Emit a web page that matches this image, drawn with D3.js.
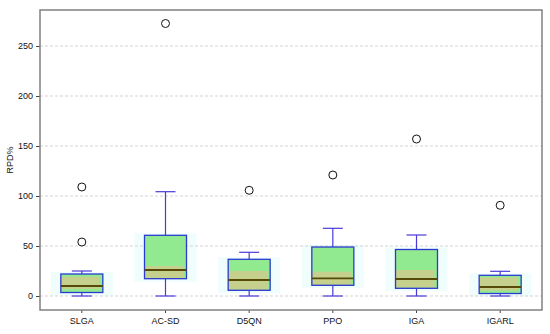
<!DOCTYPE html>
<html>
<head>
<meta charset="utf-8">
<script src="https://cdn.jsdelivr.net/npm/d3@7"></script>
<style>
  body { margin: 0; background: #fff; }
  text { font-family: "Liberation Sans", Arial, sans-serif; fill: #111; }
</style>
</head>
<body>
<script>
// box plot data
var methods   = ["SLGA", "AC-SD", "D5QN", "PPO", "IGA", "IGARL"];
var whiskLow  = [0, 0, 0, 0, 0, 0];
var q1        = [3.5, 17.3, 5.7, 10.7, 7.7, 2.5];
var medians   = [10, 26, 16, 17.7, 17, 9];
var q3        = [22, 60.7, 36.7, 49, 46.5, 20.7];
var whiskHigh = [25, 104.3, 43.7, 67.7, 61, 24.7];
// the tan band drawn over each box
var bandLow   = [7, 17.3, 6, 11, 8.3, 5.3];
var bandHigh  = [19.3, 30, 25, 24.3, 26, 18.7];
var outliers  = [[109, 54], [272.5], [105.7], [121], [157], [90.7]];
var yTicks    = [0, 50, 100, 150, 200, 250];

var W = 550, H = 334;
var plotL = 40, plotR = 542, plotT = 10, plotB = 310;

var svg = d3.select("body").append("svg")
    .attr("width", W).attr("height", H);

var x = d3.scaleBand().domain(methods).range([plotL, plotR]);
var y = d3.scaleLinear().domain([-14, 286]).range([plotB, plotT]);

var bw = 42, capW = 20, haloW = 62;
var g = svg.append("g").selectAll("g").data(methods).enter().append("g")
    .attr("transform", function (d) { return "translate(" + (x(d) + x.bandwidth() / 2) + ",0)"; });

// faint halo behind box
g.append("rect")
    .attr("x", -haloW / 2).attr("width", haloW)
    .attr("y", function (d, i) { return y(q3[i]) - 2; })
    .attr("height", function (d, i) { return y(q1[i]) - y(q3[i]) + 5; })
    .style("fill", "#f0fdfd");

// grid lines
svg.append("g").selectAll("line").data(yTicks).enter().append("line")
    .attr("x1", plotL).attr("x2", plotR)
    .attr("y1", function (d) { return y(d); })
    .attr("y2", function (d) { return y(d); })
    .style("stroke", "#c8c8c8")
    .style("stroke-dasharray", "3,2")
    .style("stroke-width", 0.8);

// axes
var yAxis = svg.append("g")
    .attr("transform", "translate(" + plotL + ",0)")
    .call(d3.axisLeft(y).tickValues(yTicks).tickSize(4).tickPadding(3));
var xAxis = svg.append("g")
    .attr("transform", "translate(0," + plotB + ")")
    .call(d3.axisBottom(x).tickSize(3).tickPadding(5));
[yAxis, xAxis].forEach(function (a) {
  a.select(".domain").remove();
  a.selectAll("line").style("stroke", "#444");
  a.selectAll("text").style("font-size", "9px").style("fill", "#111")
    .style("font-family", "'Liberation Sans', Arial, sans-serif");
});

svg.append("text")
    .attr("transform", "translate(13," + ((plotT + plotB) / 2) + ") rotate(-90)")
    .attr("text-anchor", "middle")
    .style("font-size", "9px")
    .text("RPD%");

var boxes = svg.append("g").selectAll("g").data(methods).enter().append("g")
    .attr("transform", function (d) { return "translate(" + (x(d) + x.bandwidth() / 2) + ",0)"; });

// whiskers
function whisker(y1, y2) {
  boxes.append("line")
      .attr("x1", 0).attr("x2", 0)
      .attr("y1", function (d, i) { return y(y1[i]); })
      .attr("y2", function (d, i) { return y(y2[i]); })
      .style("stroke", "#4a3ad8").style("stroke-width", 1.2);
  boxes.append("line")
      .attr("x1", -capW / 2).attr("x2", capW / 2)
      .attr("y1", function (d, i) { return y(y1[i]); })
      .attr("y2", function (d, i) { return y(y1[i]); })
      .style("stroke", "#4a3ad8").style("stroke-width", 1.2);
}
whisker(whiskHigh, q3);
whisker(whiskLow, q1);

// box
boxes.append("rect")
    .attr("x", -bw / 2).attr("width", bw)
    .attr("y", function (d, i) { return y(q3[i]); })
    .attr("height", function (d, i) { return y(q1[i]) - y(q3[i]); })
    .style("fill", "#92ea90");

// tan band
boxes.append("rect")
    .attr("x", -bw / 2).attr("width", bw - 3)
    .attr("y", function (d, i) { return y(bandHigh[i]); })
    .attr("height", function (d, i) { return y(bandLow[i]) - y(bandHigh[i]); })
    .style("fill", "#c4d08c");

boxes.append("rect")
    .attr("x", -bw / 2).attr("width", bw)
    .attr("y", function (d, i) { return y(q3[i]); })
    .attr("height", function (d, i) { return y(q1[i]) - y(q3[i]); })
    .style("fill", "none")
    .style("stroke", "#2a3ad0").style("stroke-width", 1.3);

// median
boxes.append("line")
    .attr("x1", -bw / 2).attr("x2", bw / 2)
    .attr("y1", function (d, i) { return y(medians[i]); })
    .attr("y2", function (d, i) { return y(medians[i]); })
    .style("stroke", "#574a08").style("stroke-width", 1.8);

// outliers
boxes.selectAll("circle")
    .data(function (d, i) { return outliers[i]; })
    .enter().append("circle")
    .attr("cx", 0)
    .attr("cy", function (d) { return y(d); })
    .attr("r", 4)
    .style("fill", "#fff")
    .style("stroke", "#111").style("stroke-width", 1);

// frame
svg.append("rect")
    .attr("x", plotL).attr("y", plotT)
    .attr("width", plotR - plotL).attr("height", plotB - plotT)
    .style("fill", "none").style("stroke", "#808080").style("stroke-width", 1.5);
</script>
</body>
</html>
